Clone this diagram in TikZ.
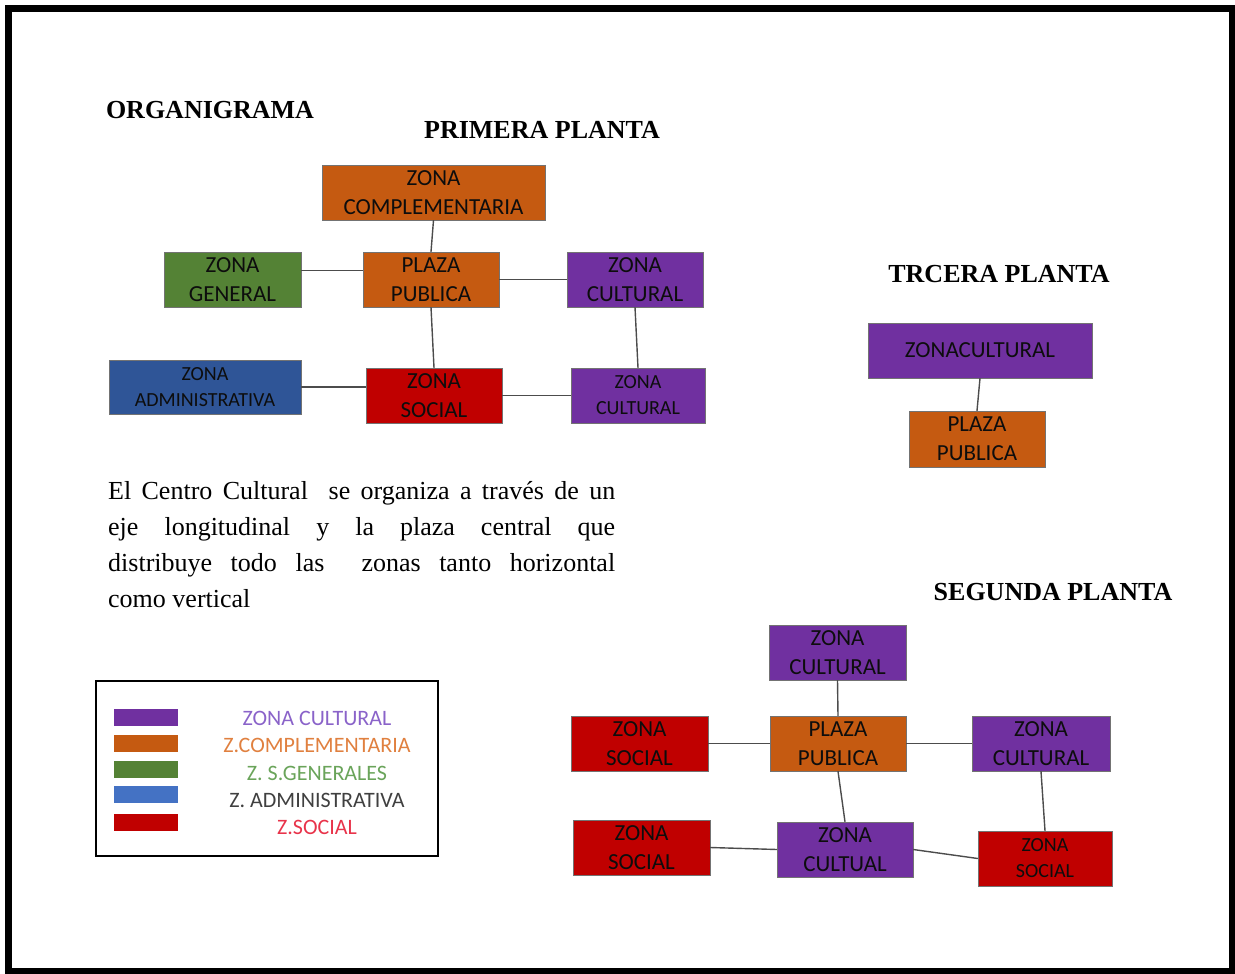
\documentclass[tikz,border=0pt]{standalone}
\usepackage{fontspec}
\setmainfont{Liberation Serif}
\newfontfamily\calibri{Carlito}
\usepackage{tikz}
\usetikzlibrary{positioning,calc}
\hbadness=10000
\definecolor{ZCult}{HTML}{7030A0}
\definecolor{ZComp}{HTML}{C55A11}
\definecolor{ZGen}{HTML}{548235}
\definecolor{ZAdm}{HTML}{2F5597}
\definecolor{ZAdmKey}{HTML}{4472C4}
\definecolor{ZSoc}{HTML}{C00000}
\definecolor{TCult}{HTML}{8A63C9}
\definecolor{TComp}{HTML}{E0803F}
\definecolor{TGen}{HTML}{6AA45A}
\definecolor{TAdm}{HTML}{404040}
\definecolor{TSoc}{HTML}{E8334A}
\tikzset{
  zbox/.style={draw=black!55, minimum width=136pt, minimum height=55pt, align=center, inner sep=1pt, text=black!95, font=\calibri\fontsize{23}{29}\selectfont},
  smalltxt/.style={font=\calibri\fontsize{20}{26}\selectfont},
  cult/.style={zbox, fill=ZCult},
  comp/.style={zbox, fill=ZComp},
  gen/.style={zbox, fill=ZGen},
  adm/.style={zbox, fill=ZAdm},
  soc/.style={zbox, fill=ZSoc},
  link/.style={draw=black!70, line width=1.4pt},
  ttl/.style={font=\bfseries\fontsize{26}{30}\selectfont},
  swatch/.style={minimum width=64pt, minimum height=17pt, inner sep=0pt},
  keytxt/.style={font=\calibri\fontsize{22}{26}\selectfont}
}

\begin{document}
\begin{tikzpicture}[x=1pt, y=-1pt]
\useasboundingbox (0,0) rectangle (1235,974);
\draw[line width=7pt] (8,9) rectangle (1232,971);

\node[ttl] (org) at (210,110) {ORGANIGRAMA};
\node[ttl] (t1) at (542,130) {PRIMERA PLANTA};
\node[ttl] (t3) at (999,274) {TRCERA PLANTA};
\node[ttl] (t2) at (1053,592) {SEGUNDA PLANTA};

\node[comp, minimum width=223pt] (comp1) at (433.5,192.5) {ZONA\\COMPLEMENTARIA};
\node[gen, minimum width=137pt] (gen1) at (232.5,279.5) {ZONA\\GENERAL};
\node[comp] (plaza1) at (431,279.5) {PLAZA\\PUBLICA};
\node[cult] (cultA) at (635,279.5) {ZONA\\CULTURAL};
\node[adm, smalltxt, minimum width=192pt, minimum height=54pt] (adm1) at (205,387) {ZONA\\ADMINISTRATIVA};
\node[soc] (soc1) at (434,395.5) {ZONA\\SOCIAL};
\node[cult, smalltxt, minimum width=134pt] (cultB) at (638,395.5) {ZONA\\CULTURAL};
\draw[link] (comp1.south) -- (plaza1.north);
\draw[link] ([yshift=9pt]gen1.east) -- ([yshift=9pt]plaza1.west);
\draw[link] (plaza1) -- (cultA);
\draw[link] (plaza1.south) -- (soc1.north);
\draw[link] (cultA.south) -- (cultB.north);
\draw[link] (adm1.east) -- (adm1.east -| soc1.west);
\draw[link] (soc1) -- (cultB);

\node[cult, minimum width=224pt] (cult3) at (980,350.5) {ZONACULTURAL};
\node[comp, minimum height=56pt] (plaza3) at (977,439) {PLAZA\\PUBLICA};
\draw[link] (cult3.south) -- (plaza3.north);

\node[cult, minimum width=137pt] (cult2t) at (837.5,652.5) {ZONA\\CULTURAL};
\node[soc, minimum width=137pt] (soc2l) at (639.5,743.5) {ZONA\\SOCIAL};
\node[comp] (plaza2) at (838,743.5) {PLAZA\\PUBLICA};
\node[cult, minimum width=138pt] (cult2r) at (1041,743.5) {ZONA\\CULTURAL};
\node[soc, minimum width=137pt] (soc2b) at (641.5,847.5) {ZONA\\SOCIAL};
\node[cult] (cult2b) at (845,849.5) {ZONA\\CULTUAL};
\node[soc, smalltxt, minimum width=134pt] (soc2r) at (1045,858.5) {ZONA\\SOCIAL};
\draw[link] (cult2t.south) -- (plaza2.north);
\draw[link] (soc2l) -- (plaza2);
\draw[link] (plaza2) -- (cult2r);
\draw[link] (plaza2.south) -- (cult2b.north);
\draw[link] (cult2r.south) -- (soc2r.north);
\draw[link] (soc2b.east) -- (cult2b.west);
\draw[link] (cult2b.east) -- (soc2r.west);

\node[text width=507pt, align=justify, anchor=north west, inner sep=0pt,
  font=\fontsize{26}{36}\selectfont] (desc) at (108,481)
  {El Centro Cultural\ \ se organiza a través de un\linebreak
   eje longitudinal y la plaza central que\linebreak
   distribuye todo las\ \ zonas tanto horizontal\linebreak
   como vertical};

\node[draw, line width=1.2pt, minimum width=342pt, minimum height=175pt] (key) at (267,768.5) {};
\foreach \sw/\tc/\txt/\ys/\yt in {ZCult/TCult/ZONA CULTURAL/717.5/718,
    ZComp/TComp/Z.COMPLEMENTARIA/743.5/745,
    ZGen/TGen/Z. S.GENERALES/769/773,
    ZAdmKey/TAdm/Z. ADMINISTRATIVA/794/800,
    ZSoc/TSoc/Z.SOCIAL/822/827}
{
  \node[swatch, fill=\sw] (sw\sw) at (146,\ys) {};
  \node[keytxt, text=\tc] (kt\sw) at (317,\yt) {\txt};
}
\end{tikzpicture}
\end{document}
